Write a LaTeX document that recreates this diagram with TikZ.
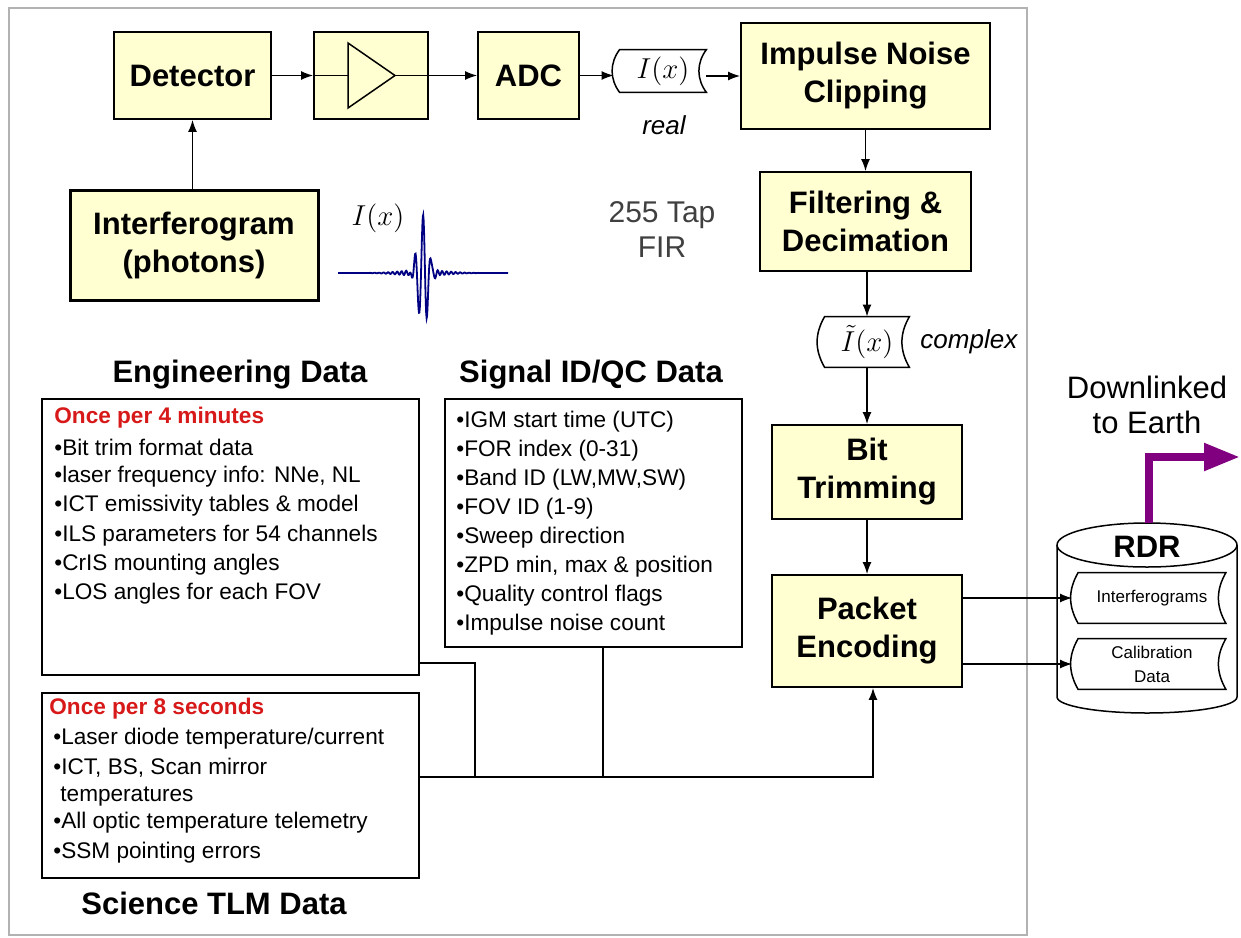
\documentclass[tikz,border=0pt]{standalone}
\usepackage[no-math]{fontspec}
\setmainfont{Liberation Sans}
\usetikzlibrary{arrows.meta}
\definecolor{blockfill}{RGB}{255,255,210}
\definecolor{onceRed}{RGB}{215,25,25}
\definecolor{waveBlue}{RGB}{0,0,130}
\definecolor{downPurple}{RGB}{128,0,128}

\begin{document}
\begin{tikzpicture}[x=0.5pt, y=-0.5pt, >={Latex[length=6pt,width=4.5pt]},
    block/.style={draw, line width=0.9pt, fill=blockfill, align=center, inner sep=0pt,
        font=\fontsize{15.5}{19}\selectfont\bfseries},
    infobox/.style={draw, line width=0.9pt, inner sep=0pt},
    heading/.style={font=\fontsize{15.5}{19}\selectfont\bfseries},
    item/.style={anchor=west, inner sep=0pt, font=\fontsize{11.3}{13}\selectfont},
    once/.style={anchor=west, inner sep=0pt, text=onceRed, font=\fontsize{11.3}{13}\selectfont\bfseries},
    tapebox/.style={inner sep=0pt, font=\fontsize{13.5}{16}\selectfont},
    tapetext/.style={inner sep=0pt, align=center, font=\fontsize{8.5}{12}\selectfont},
    note/.style={font=\fontsize{13}{15}\selectfont\itshape},
    wire/.style={line width=0.75pt}]
    \useasboundingbox (0,0) rectangle (1241,937);
    % Frame
    \draw[gray!60, line width=1pt] (9,8) rectangle (1027,935);
    % Signal chain
    \node[block, minimum width=78.5pt, minimum height=43.5pt] (det) at (192.5,75.5) {Detector};
    \node[block, minimum width=57pt, minimum height=43.5pt] (amp) at (371,75.5) {};
    \node[block, minimum width=50.5pt, minimum height=43.5pt] (adc) at (528.5,75.5) {ADC};
    \node[tapebox, minimum width=43pt, minimum height=21pt] (ix) at (663,71) {$I(x)$};
    \node[note] (real) at (664,125) {real};
    \node[block, minimum width=124.5pt, minimum height=53pt] (inc) at (865.5,76) {Impulse Noise\\Clipping};
    \node[block, minimum width=105.5pt, minimum height=49.5pt] (fil) at (865.5,221.5) {Filtering \&\\Decimation};
    \node[tapebox, minimum width=42pt, minimum height=25pt] (itil) at (867,342) {$\tilde{I}(x)$};
    \node[note, anchor=west, xshift=2pt] (cplx) at (itil.east) {complex};
    \node[block, minimum width=95pt, minimum height=47pt] (bit) at (867,472) {Bit\\Trimming};
    \node[block, minimum width=95pt, minimum height=56pt] (pack) at (867,631) {Packet\\Encoding};
    \node[font=\fontsize{15}{17.5}\selectfont, text=black!75, align=center] (fir) at (662,230) {255 Tap\\FIR};
    % Interferogram source
    \node[block, line width=1.5pt, minimum width=124pt, minimum height=55pt] (ifg) at (194,245) {Interferogram\\(photons)};
    \node[tapebox] (wavelabel) at (378,218) {$I(x)$};
    \draw[waveBlue, line width=0.9pt, domain=-85:85, samples=400, variable=\u]
        plot ({423+\u}, {273 - 58*exp(-min((\u/7)*(\u/7),9))*cos(45*\u) - 3*exp(-min((\u/30)*(\u/30),9))*sin(80*\u)});
    % Amplifier
    \draw[wire] ([xshift=-11.5pt,yshift=16.25pt]amp.center) -- ([xshift=12pt]amp.center)
        -- ([xshift=-11.5pt,yshift=-16.25pt]amp.center) -- cycle;
    \draw[wire] (amp.west) -- ([xshift=-11.5pt]amp.center);
    \draw[wire] ([xshift=12pt]amp.center) -- (amp.east);
    % RDR store
    \draw[wire, fill=white] (1057,545) -- (1057,697)
        arc[start angle=180, end angle=360, x radius=45pt, y radius=8pt] -- (1237,545);
    \draw[wire, fill=white] (1147,545) ellipse [x radius=45pt, y radius=11pt];
    \node[heading] (rdr) at (1147,547) {RDR};
    \node[tapetext, minimum width=73.5pt, minimum height=25pt] (igm) at (1152,598) {Interferograms};
    \node[tapetext, minimum width=73.5pt, minimum height=25pt] (cal) at (1152,664) {Calibration\\Data};
    \node[font=\fontsize{15.5}{17.5}\selectfont, align=center] (down) at (1147,404.5) {Downlinked\\to Earth};
    \coordinate (rdrtop) at (1149,523);
    \coordinate (earth) at (1240,457);
    % Tapes
    \foreach \t in {ix,itil,igm,cal}
        \draw[wire] (\t.north west) -- (\t.north east)
            .. controls ([xshift=-5pt,yshift=4pt]\t.east) and ([xshift=-5pt,yshift=-4pt]\t.east) .. (\t.south east)
            -- (\t.south west)
            .. controls ([xshift=-5pt,yshift=-4pt]\t.west) and ([xshift=-5pt,yshift=4pt]\t.west) .. cycle;
    % Engineering data
    \node[heading] (engh) at (240,375) {Engineering Data};
    \node[infobox, minimum width=188.5pt, minimum height=138pt] (engbox) at (230.5,537) {};
    \node[once] (eng-once) at (54,418) {Once per 4 minutes};
    \foreach \txt [count=\i from 0] in {Bit trim format data, {laser frequency info: NNe, NL},
        ICT emissivity tables \& model, ILS parameters for 54 channels, CrIS mounting angles,
        LOS angles for each FOV}
        \node[item] (eng\i) at (54,{447+29.4*\i}) {•\txt};
    % Signal ID/QC data
    \node[heading] (sigh) at (591,375) {Signal ID/QC Data};
    \node[infobox, minimum width=148.5pt, minimum height=124pt] (sigbox) at (593.5,523) {};
    \foreach \txt [count=\i from 0] in {IGM start time (UTC), FOR index (0-31), {Band ID (LW,MW,SW)},
        FOV ID (1-9), Sweep direction, {ZPD min, max \& position}, Quality control flags,
        Impulse noise count}
        \node[item] (sig\i) at (456,{422+29*\i}) {•\txt};
    % Science TLM data
    \node[infobox, minimum width=188.5pt, minimum height=92.5pt] (scibox) at (230.5,785.5) {};
    \node[once] (sci-once) at (49,709) {Once per 8 seconds};
    \node[item] (sci0) at (53,739) {•Laser diode temperature/current};
    \node[item] (sci1) at (53,768) {•ICT, BS, Scan mirror};
    \node[item] (sci2) at (60,797) {temperatures};
    \node[item] (sci3) at (53,823) {•All optic temperature telemetry};
    \node[item] (sci4) at (53,853) {•SSM pointing errors};
    \node[heading] (scih) at (214,903) {Science TLM Data};
    % Connectors
    \draw[wire, ->] (ifg.north -| det) -- (det.south);
    \draw[wire, ->] (det) -- (amp);
    \draw[wire, ->] (amp) -- (adc);
    \draw[wire, ->, shorten >=3pt] (adc.east) -- (adc.east -| ix.west);
    \draw[wire, ->] (ix.east |- inc) -- (inc.west);
    \draw[wire, ->] (inc) -- (fil);
    \draw[wire, ->] (fil.south -| itil) -- (itil.north);
    \draw[wire, ->] (itil) -- (bit);
    \draw[wire, ->] (bit) -- (pack);
    \draw[wire, ->, shorten >=3pt] (pack.east |- igm) -- (igm.west);
    \draw[wire, ->, shorten >=3pt] (pack.east |- cal) -- (cal.west);
    \coordinate (engtap) at (475,663);
    \coordinate (bus) at (603,777);
    \draw[wire] (engtap -| engbox.east) -- (engtap) -- (engtap |- bus);
    \draw[wire] ([xshift=4.75pt]sigbox.south) -- ([xshift=4.75pt]sigbox.south |- bus);
    \draw[wire, ->] (scibox.east |- bus) -| ([xshift=3pt]pack.south);
    \draw[downPurple, line width=4pt, -{Triangle[length=18pt,width=13pt]}] (rdrtop) |- (earth);
\end{tikzpicture}
\end{document}
